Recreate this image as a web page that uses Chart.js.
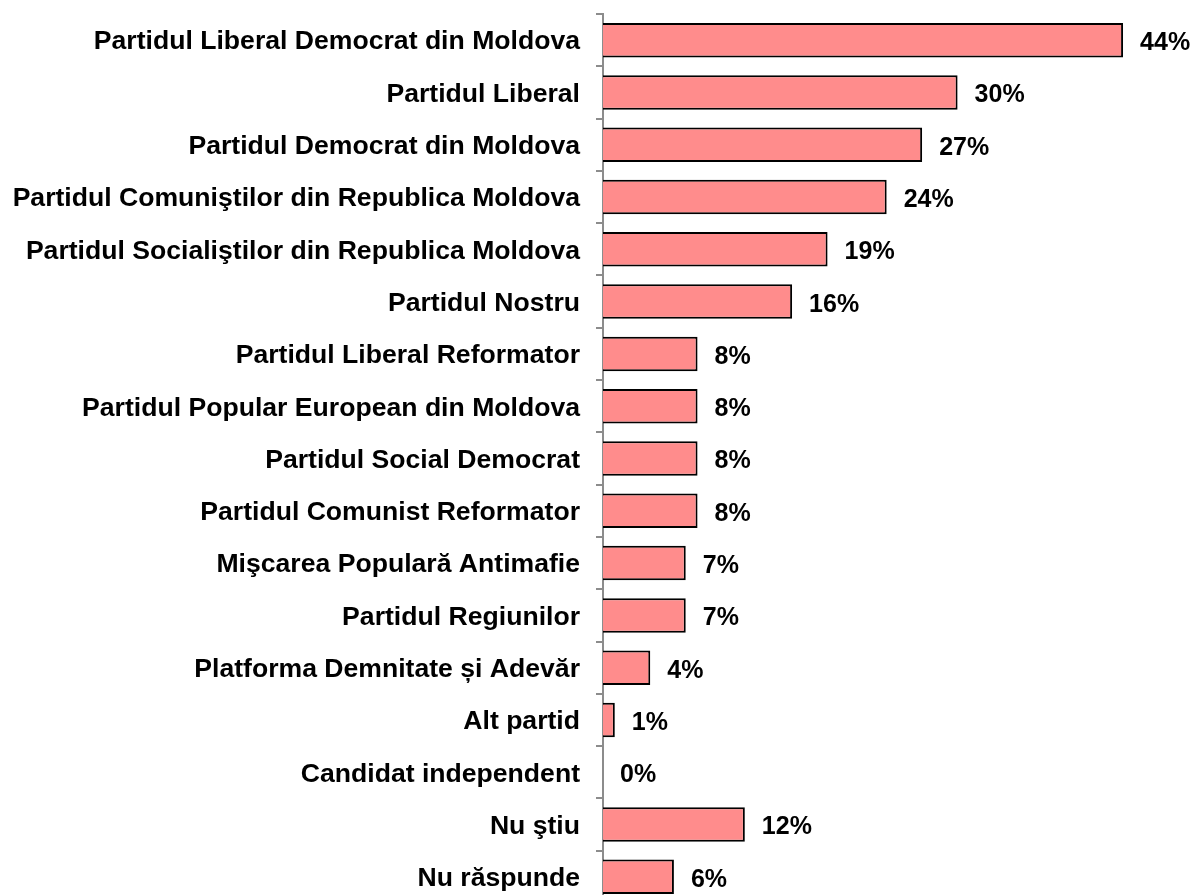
<!DOCTYPE html>
<html>
<head>
<meta charset="utf-8">
<script src="https://cdn.jsdelivr.net/npm/chart.js@4"></script>
<style>
    html, body { margin: 0; padding: 0; background: #fff; overflow: hidden; }
    #wrap { width: 1194px; height: 895px; overflow: hidden; }
</style>
</head>
<body>
<div id="wrap">
    <canvas id="partiesChart" width="1194" height="910"></canvas>
</div>
<script>
var categories = [
    "Partidul Liberal Democrat din Moldova",
    "Partidul Liberal",
    "Partidul Democrat din Moldova",
    "Partidul Comuniştilor din Republica Moldova",
    "Partidul Socialiştilor din Republica Moldova",
    "Partidul Nostru",
    "Partidul Liberal Reformator",
    "Partidul Popular European din Moldova",
    "Partidul Social Democrat",
    "Partidul Comunist Reformator",
    "Mişcarea Populară Antimafie",
    "Partidul Regiunilor",
    "Platforma Demnitate și Adevăr",
    "Alt partid",
    "Candidat independent",
    "Nu ştiu",
    "Nu răspunde"
];
var values = [44, 30, 27, 24, 19, 16, 8, 8, 8, 8, 7, 7, 4, 1, 0, 12, 6];
var valueLabels = values.map(function (v) { return v + "%"; });

var fontFamily = "'Liberation Sans', Arial, sans-serif";

// percent labels right of each bar
var barLabels = {
    id: 'barLabels',
    afterDatasetsDraw: function (chart) {
        var ctx = chart.ctx;
        var meta = chart.getDatasetMeta(0);
        ctx.save();
        ctx.font = "bold 25px " + fontFamily;
        ctx.fillStyle = "#000";
        ctx.textAlign = "left";
        ctx.textBaseline = "middle";
        meta.data.forEach(function (bar, i) {
            ctx.fillText(valueLabels[i], bar.x + 17, bar.y + 3);
        });
        ctx.restore();
    }
};

var chart1 = document.getElementById("partiesChart");
var partiesChart = new Chart(chart1, {
    type: 'bar',
    data: {
        labels: categories,
        datasets: [{
            data: values,
            backgroundColor: "rgb(255,140,140)",
            borderColor: "#000",
            borderWidth: 2,
            barPercentage: 0.66,
            categoryPercentage: 1
        }]
    },
    options: {
        indexAxis: 'y',
        responsive: false,
        animation: false,
        layout: {
            padding: { top: 14, bottom: 7, left: 0, right: 0 }
        },
        plugins: {
            legend: { display: false },
            tooltip: { enabled: false }
        },
        scales: {
            x: {
                display: false,
                min: 0,
                max: 50
            },
            y: {
                afterFit: function (scale) {
                    scale.width = 603;
                    scale.paddingTop = 0;
                    scale.paddingBottom = 0;
                },
                grid: {
                    offset: true,
                    drawOnChartArea: false,
                    drawTicks: true,
                    tickLength: 7,
                    color: "#8c8c8c",
                    lineWidth: 2
                },
                border: { color: "#8c8c8c", width: 2 },
                ticks: {
                    color: "#000",
                    padding: 16,
                    labelOffset: 2,
                    autoSkip: false,
                    font: { family: fontFamily, size: 26.6, weight: 'bold' }
                }
            }
        }
    },
    plugins: [barLabels]
});
</script>
</body>
</html>
